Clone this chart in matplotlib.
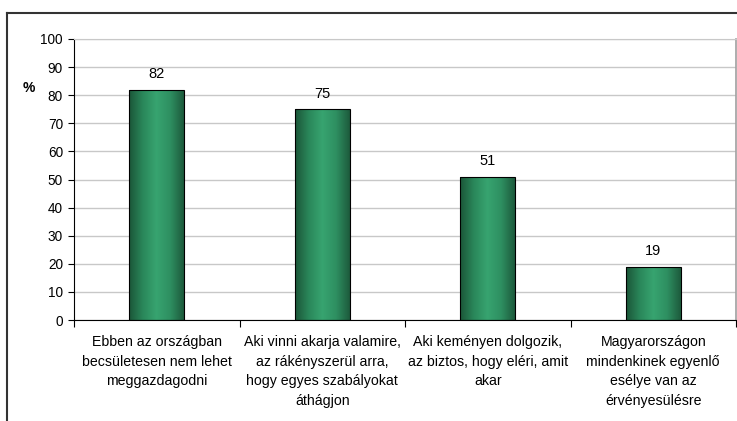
import matplotlib.pyplot as plt
import numpy as np
from matplotlib.colors import LinearSegmentedColormap
from matplotlib.lines import Line2D

plt.rcParams['font.family'] = ['Liberation Sans', 'DejaVu Sans']

# data
categories = ['Ebben az országban\nbecsületesen nem lehet\nmeggazdagodni',
              'Aki vinni akarja valamire,\naz rákényszerül arra,\nhogy egyes szabályokat\náthágjon',
              'Aki keményen dolgozik,\naz biztos, hogy eléri, amit\nakar',
              'Magyarországon\nmindenkinek egyenlő\nesélye van az\nérvényesülésre']
values = [82, 75, 51, 19]

W, H = 737, 421
fig = plt.figure(figsize=(W / 100, H / 100), dpi=100)
fig.patch.set_facecolor('white')

# outer frame (cut at right and bottom like the original)
fig.add_artist(Line2D([7 / W, 1.0], [1 - 13 / H, 1 - 13 / H], color='#333333', lw=1.5))
fig.add_artist(Line2D([7 / W, 7 / W], [0, 1 - 13 / H], color='#333333', lw=1.5))

ax = fig.add_axes([74 / W, (H - 320) / H, 662 / W, 281 / H])
x = np.arange(len(categories))
bars = ax.bar(x, values, width=0.33, color='none', edgecolor='black', lw=0.8, zorder=3)

# horizontal gradient inside each bar
cmap = LinearSegmentedColormap.from_list('grn', ['#1b5538', '#2a875a', '#37a470', '#2e8f61', '#1d5a3c'])
grad = np.linspace(0, 1, 256).reshape(1, -1)
for b in bars:
    im = ax.imshow(grad, cmap=cmap, aspect='auto', zorder=2,
                   extent=[b.get_x(), b.get_x() + b.get_width(), 0, b.get_height()])
    im.set_clip_path(b)
    ax.annotate(str(b.get_height()), xy=(b.get_x() + b.get_width() / 2, b.get_height()),
                xytext=(0, 6), textcoords='offset points', ha='center', va='bottom',
                fontsize=10.5, color='black')

ax.set_xlim(-0.5, len(categories) - 0.5)
ax.set_ylim(0, 100)
ax.set_yticks(np.arange(0, 101, 10))
ax.yaxis.grid(True, color='#c8c8c8', lw=1, zorder=0)
ax.set_axisbelow(True)

ax.set_xticks(np.arange(len(categories) + 1) - 0.5)
ax.set_xticklabels([])
ax.set_xticks(x, minor=True)
ax.set_xticklabels(categories, minor=True, fontsize=10.2, linespacing=1.5)
ax.tick_params(axis='x', which='minor', length=0, pad=11)
ax.tick_params(axis='x', which='major', length=5, direction='out', color='black')
ax.tick_params(axis='y', length=4, direction='out', labelsize=9.8, pad=4)

ax.spines['left'].set_color('black')
ax.spines['bottom'].set_color('black')
ax.spines['right'].set_color('#a0a0a0')
ax.spines['top'].set_color('#c8c8c8')
ax.spines['right'].set_linewidth(1.2)

fig.text(29 / W, 1 - 88 / H, '%', fontsize=10, fontweight='bold', ha='center', va='center')

fig.savefig('out.png', dpi=100)
